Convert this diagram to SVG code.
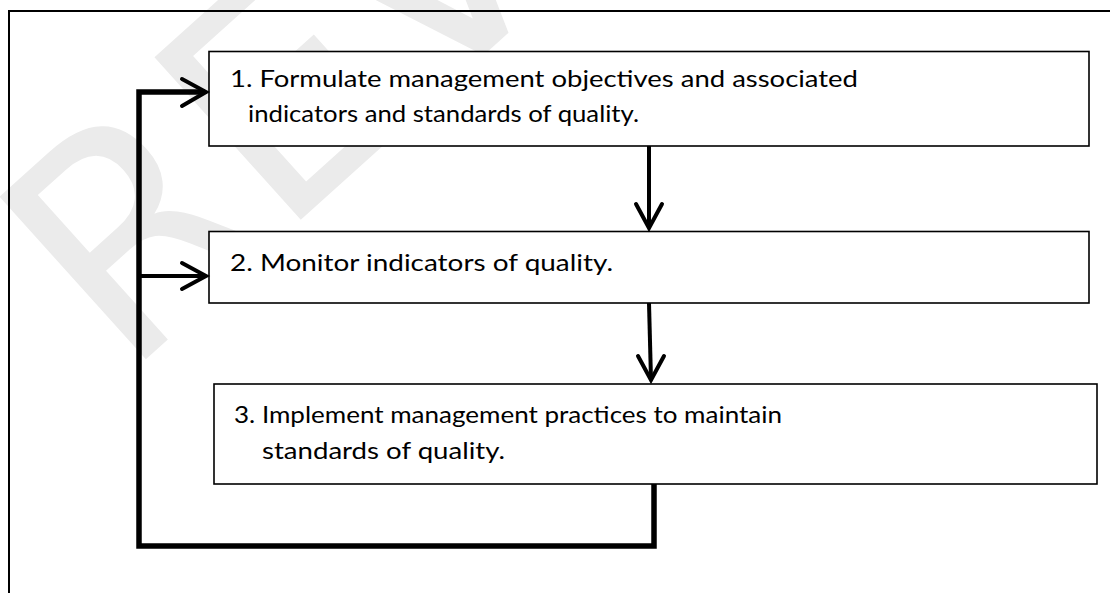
<svg xmlns="http://www.w3.org/2000/svg" width="1110" height="593" viewBox="0 0 1110 593">
<style>
.box{fill:#fff;stroke:#000;stroke-width:1.6}
.lbl{font-family:"Lato","Open Sans","Liberation Sans",sans-serif;font-size:23px;fill:#000}
.con{fill:none;stroke:#000;stroke-linecap:butt;stroke-linejoin:miter}
.head{fill:none;stroke:#000;stroke-width:4;stroke-linecap:round;stroke-linejoin:miter}
.wm{font-family:"DejaVu Sans",sans-serif;font-size:300px;fill:#ebebeb}
</style>
<rect width="1110" height="593" fill="#fff"/>
<text class="wm" transform="translate(124,379) rotate(-42)">REV</text>
<path d="M9,593 V11 H1110" fill="none" stroke="#000" stroke-width="2"/>
<g id="node1">
<rect class="box" x="209" y="51.5" width="880" height="94.5"/>
<text class="lbl" x="230" y="87" textLength="628" lengthAdjust="spacingAndGlyphs">1. Formulate management objectives and associated</text>
<text class="lbl" x="248" y="122" textLength="391" lengthAdjust="spacingAndGlyphs">indicators and standards of quality.</text>
</g>
<g id="node2">
<rect class="box" x="209" y="231.5" width="880" height="71.5"/>
<text class="lbl" x="230" y="271" textLength="383" lengthAdjust="spacingAndGlyphs">2. Monitor indicators of quality.</text>
</g>
<g id="node3">
<rect class="box" x="214" y="384" width="883" height="100"/>
<text class="lbl" x="234" y="423" textLength="548" lengthAdjust="spacingAndGlyphs">3. Implement management practices to maintain</text>
<text class="lbl" x="262" y="459" textLength="243" lengthAdjust="spacingAndGlyphs">standards of quality.</text>
</g>
<g id="connectors">
<path class="con" stroke-width="4" d="M649,146 V228"/>
<path class="head" d="M636,204 L649,228 L662,204"/>
<path class="con" stroke-width="4" d="M649,303 L651,380"/>
<path class="head" d="M638,356 L651,380 L664,356"/>
<path class="con" stroke-width="5.5" d="M654,484 V546 H139 V92 H205"/>
<path class="con" stroke-width="4" d="M139,276 H205"/>
<path class="head" d="M182,79 L206,92 L182,106"/>
<path class="head" d="M182,263 L206,276 L182,289"/>
</g>
</svg>
